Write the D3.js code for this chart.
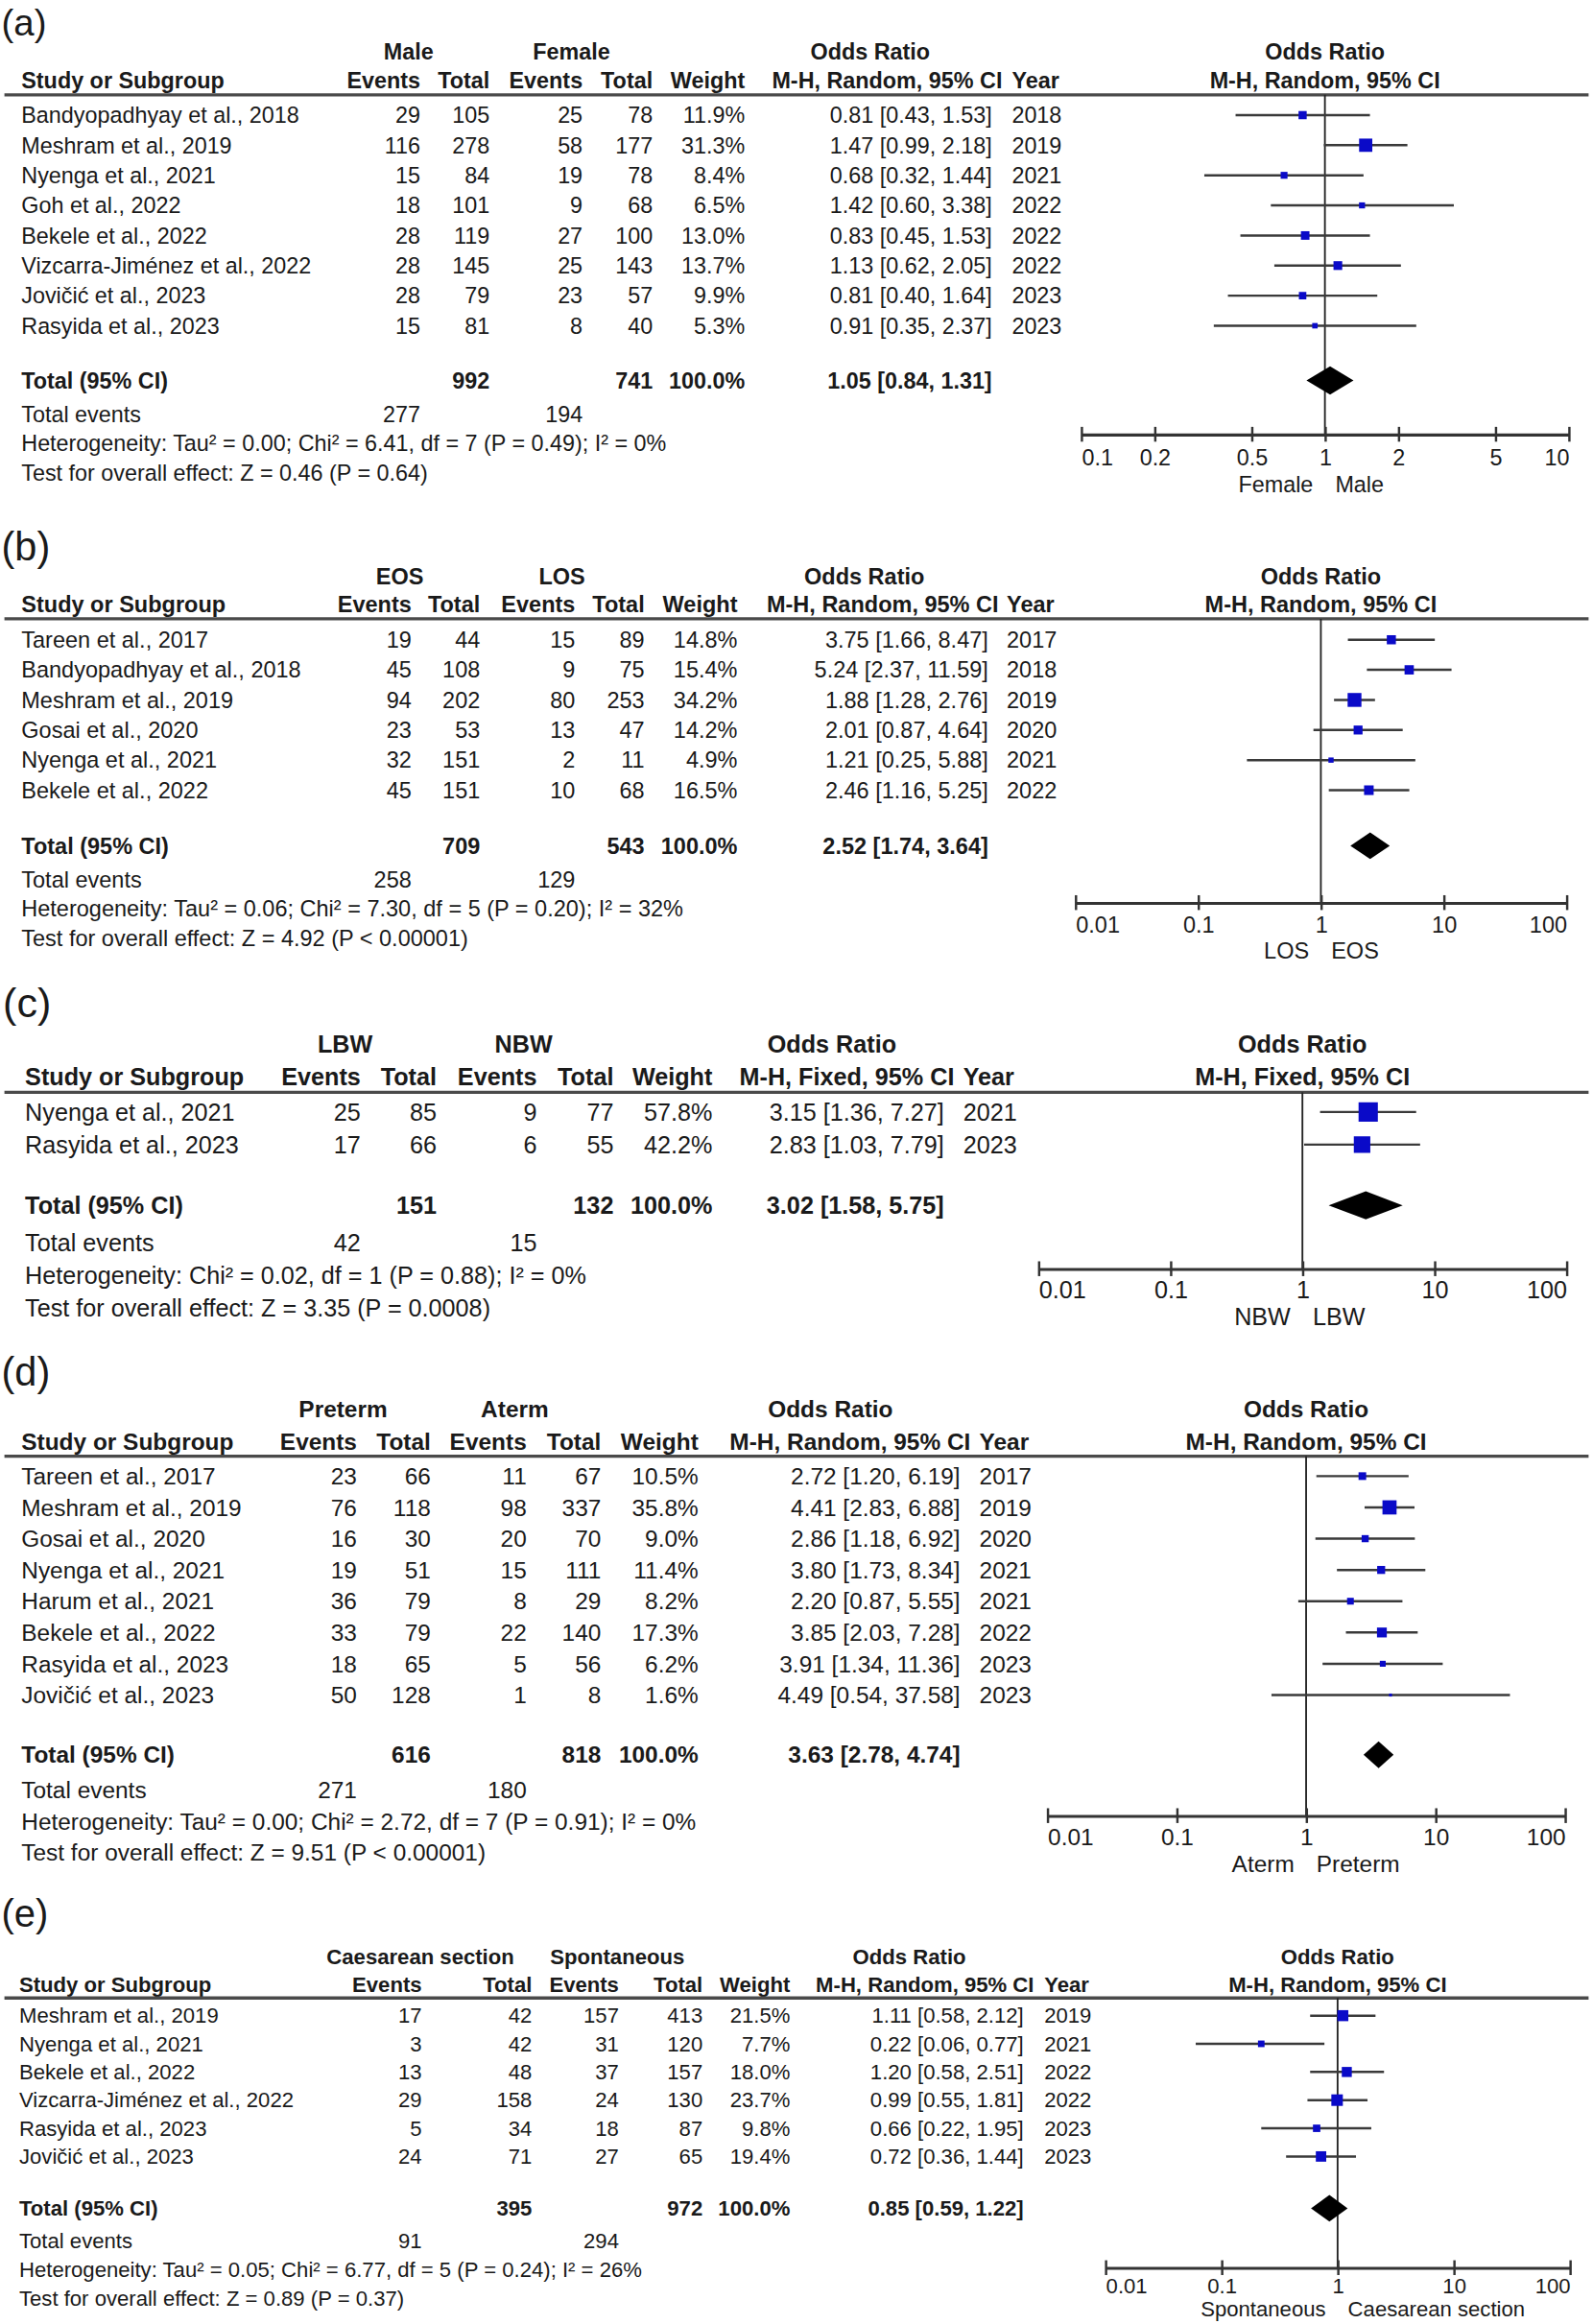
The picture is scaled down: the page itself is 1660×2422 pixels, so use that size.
<!DOCTYPE html>
<html>
<head>
<meta charset="utf-8">
<script src="https://cdn.jsdelivr.net/npm/d3@7"></script>
<style>
  html, body { margin: 0; padding: 0; background: #fff; }
  svg { display: block; }
  text { font-family: 'Liberation Sans', Arial, Helvetica, sans-serif; fill: #1a1a1a; }
</style>
</head>
<body>
<svg id="chart" width="1660" height="2422" viewBox="0 0 1080 1568" preserveAspectRatio="none"></svg>
<script>
// ---------- data: (a) sex ----------
var aStudies = ['Bandyopadhyay et al., 2018', 'Meshram et al., 2019', 'Nyenga et al., 2021', 'Goh et al., 2022',
  'Bekele et al., 2022', 'Vizcarra-Jiménez et al., 2022', 'Jovičić et al., 2023', 'Rasyida et al., 2023']
var aEvents1 = [29, 116, 15, 18, 28, 28, 28, 15]
var aTotal1 = [105, 278, 84, 101, 119, 145, 79, 81]
var aEvents2 = [25, 58, 19, 9, 27, 25, 23, 8]
var aTotal2 = [78, 177, 78, 68, 100, 143, 57, 40]
var aWeight = [11.9, 31.3, 8.4, 6.5, 13.0, 13.7, 9.9, 5.3]
var aOR = [0.81, 1.47, 0.68, 1.42, 0.83, 1.13, 0.81, 0.91]
var aLow = [0.43, 0.99, 0.32, 0.60, 0.45, 0.62, 0.40, 0.35]
var aHigh = [1.53, 2.18, 1.44, 3.38, 1.53, 2.05, 1.64, 2.37]
var aYear = [2018, 2019, 2021, 2022, 2022, 2022, 2023, 2023]
var aTotals = [992, 741]
var aTotalEvents = [277, 194]
var aPooled = [1.05, 0.84, 1.31]
var aGroups = ['Male', 'Female']
var aSides = ['Female', 'Male']
var aStats = ['Heterogeneity: Tau² = 0.00; Chi² = 6.41, df = 7 (P = 0.49); I² = 0%',
  'Test for overall effect: Z = 0.46 (P = 0.64)']

// ---------- data: (b) onset ----------
var bStudies = ['Tareen et al., 2017', 'Bandyopadhyay et al., 2018', 'Meshram et al., 2019', 'Gosai et al., 2020',
  'Nyenga et al., 2021', 'Bekele et al., 2022']
var bEvents1 = [19, 45, 94, 23, 32, 45]
var bTotal1 = [44, 108, 202, 53, 151, 151]
var bEvents2 = [15, 9, 80, 13, 2, 10]
var bTotal2 = [89, 75, 253, 47, 11, 68]
var bWeight = [14.8, 15.4, 34.2, 14.2, 4.9, 16.5]
var bOR = [3.75, 5.24, 1.88, 2.01, 1.21, 2.46]
var bLow = [1.66, 2.37, 1.28, 0.87, 0.25, 1.16]
var bHigh = [8.47, 11.59, 2.76, 4.64, 5.88, 5.25]
var bYear = [2017, 2018, 2019, 2020, 2021, 2022]
var bTotals = [709, 543]
var bTotalEvents = [258, 129]
var bPooled = [2.52, 1.74, 3.64]
var bGroups = ['EOS', 'LOS']
var bSides = ['LOS', 'EOS']
var bStats = ['Heterogeneity: Tau² = 0.06; Chi² = 7.30, df = 5 (P = 0.20); I² = 32%',
  'Test for overall effect: Z = 4.92 (P < 0.00001)']

// ---------- data: (c) birth weight ----------
var cStudies = ['Nyenga et al., 2021', 'Rasyida et al., 2023']
var cEvents1 = [25, 17]
var cTotal1 = [85, 66]
var cEvents2 = [9, 6]
var cTotal2 = [77, 55]
var cWeight = [57.8, 42.2]
var cOR = [3.15, 2.83]
var cLow = [1.36, 1.03]
var cHigh = [7.27, 7.79]
var cYear = [2021, 2023]
var cTotals = [151, 132]
var cTotalEvents = [42, 15]
var cPooled = [3.02, 1.58, 5.75]
var cGroups = ['LBW', 'NBW']
var cSides = ['NBW', 'LBW']
var cStats = ['Heterogeneity: Chi² = 0.02, df = 1 (P = 0.88); I² = 0%',
  'Test for overall effect: Z = 3.35 (P = 0.0008)']

// ---------- data: (d) gestation ----------
var dStudies = ['Tareen et al., 2017', 'Meshram et al., 2019', 'Gosai et al., 2020', 'Nyenga et al., 2021',
  'Harum et al., 2021', 'Bekele et al., 2022', 'Rasyida et al., 2023', 'Jovičić et al., 2023']
var dEvents1 = [23, 76, 16, 19, 36, 33, 18, 50]
var dTotal1 = [66, 118, 30, 51, 79, 79, 65, 128]
var dEvents2 = [11, 98, 20, 15, 8, 22, 5, 1]
var dTotal2 = [67, 337, 70, 111, 29, 140, 56, 8]
var dWeight = [10.5, 35.8, 9.0, 11.4, 8.2, 17.3, 6.2, 1.6]
var dOR = [2.72, 4.41, 2.86, 3.80, 2.20, 3.85, 3.91, 4.49]
var dLow = [1.20, 2.83, 1.18, 1.73, 0.87, 2.03, 1.34, 0.54]
var dHigh = [6.19, 6.88, 6.92, 8.34, 5.55, 7.28, 11.36, 37.58]
var dYear = [2017, 2019, 2020, 2021, 2021, 2022, 2023, 2023]
var dTotals = [616, 818]
var dTotalEvents = [271, 180]
var dPooled = [3.63, 2.78, 4.74]
var dGroups = ['Preterm', 'Aterm']
var dSides = ['Aterm', 'Preterm']
var dStats = ['Heterogeneity: Tau² = 0.00; Chi² = 2.72, df = 7 (P = 0.91); I² = 0%',
  'Test for overall effect: Z = 9.51 (P < 0.00001)']

// ---------- data: (e) delivery ----------
var eStudies = ['Meshram et al., 2019', 'Nyenga et al., 2021', 'Bekele et al., 2022',
  'Vizcarra-Jiménez et al., 2022', 'Rasyida et al., 2023', 'Jovičić et al., 2023']
var eEvents1 = [17, 3, 13, 29, 5, 24]
var eTotal1 = [42, 42, 48, 158, 34, 71]
var eEvents2 = [157, 31, 37, 24, 18, 27]
var eTotal2 = [413, 120, 157, 130, 87, 65]
var eWeight = [21.5, 7.7, 18.0, 23.7, 9.8, 19.4]
var eOR = [1.11, 0.22, 1.20, 0.99, 0.66, 0.72]
var eLow = [0.58, 0.06, 0.58, 0.55, 0.22, 0.36]
var eHigh = [2.12, 0.77, 2.51, 1.81, 1.95, 1.44]
var eYear = [2019, 2021, 2022, 2022, 2023, 2023]
var eTotals = [395, 972]
var eTotalEvents = [91, 294]
var ePooled = [0.85, 0.59, 1.22]
var eGroups = ['Caesarean section', 'Spontaneous']
var eSides = ['Spontaneous', 'Caesarean section']
var eStats = ['Heterogeneity: Tau² = 0.05; Chi² = 6.77, df = 5 (P = 0.24); I² = 26%',
  'Test for overall effect: Z = 0.89 (P = 0.37)']

// axis ticks
var narrowTicks = [0.1, 0.2, 0.5, 1, 2, 5, 10]
var wideTicks = [0.01, 0.1, 1, 10, 100]

var svg = d3.select('#chart')

function txt(g, x, y, s, anchor, bold, size) {
  return g.append('text')
    .attr('x', x)
    .attr('y', y)
    .attr('text-anchor', anchor || 'start')
    .style('font-size', size + 'px')
    .style('font-weight', bold ? 'bold' : 'normal')
    .text(s)
}

function forest(p) {
  var g = svg.append('g')
  var fs = p.fs
  var c = p.cols
  var f2 = d3.format('.2f')
  var f1 = d3.format('.1f')

  var x = d3.scaleLog()
    .domain([p.ticks[0], p.ticks[p.ticks.length - 1]])
    .range([p.x0, p.x1])
  var y = d3.scaleLinear().domain([0, 1]).range([p.row0, p.row0 + p.step])
  var size = d3.scaleSqrt().domain([0, 100]).range([0, p.k * 10])
  var mid = fs * 0.35

  txt(g, p.letterX, p.letterY, p.letter, 'start', false, p.letterSize)

  // header row 1
  txt(g, p.g1X, p.h1Y, p.groups[0], 'middle', true, fs)
  txt(g, p.g2X, p.h1Y, p.groups[1], 'middle', true, fs)
  txt(g, p.orHeadX, p.h1Y, 'Odds Ratio', 'middle', true, fs)
  txt(g, x(1), p.h1Y, 'Odds Ratio', 'middle', true, fs)

  // header row 2
  txt(g, c.study, p.h2Y, 'Study or Subgroup', 'start', true, fs)
  txt(g, c.ev1, p.h2Y, 'Events', 'end', true, fs)
  txt(g, c.tot1, p.h2Y, 'Total', 'end', true, fs)
  txt(g, c.ev2, p.h2Y, 'Events', 'end', true, fs)
  txt(g, c.tot2, p.h2Y, 'Total', 'end', true, fs)
  txt(g, c.weight, p.h2Y, 'Weight', 'end', true, fs)
  txt(g, c.or + 7, p.h2Y, p.method, 'end', true, fs)
  txt(g, c.year, p.h2Y, 'Year', 'start', true, fs)
  txt(g, x(1), p.h2Y, p.method, 'middle', true, fs)

  g.append('line')
    .attr('x1', 3).attr('x2', 1077)
    .attr('y1', p.ruleY).attr('y2', p.ruleY)
    .style('stroke', '#4a4a4a')
    .style('stroke-width', 2.2)

  // study rows
  p.studies.forEach(function(s, i) {
    var yy = y(i)
    txt(g, c.study, yy, s, 'start', false, fs)
    txt(g, c.ev1, yy, p.ev1[i], 'end', false, fs)
    txt(g, c.tot1, yy, p.tot1[i], 'end', false, fs)
    txt(g, c.ev2, yy, p.ev2[i], 'end', false, fs)
    txt(g, c.tot2, yy, p.tot2[i], 'end', false, fs)
    txt(g, c.weight, yy, f1(p.weight[i]) + '%', 'end', false, fs)
    txt(g, c.or, yy, f2(p.or[i]) + ' [' + f2(p.low[i]) + ', ' + f2(p.high[i]) + ']', 'end', false, fs)
    txt(g, c.year, yy, p.year[i], 'start', false, fs)
  })

  // totals
  txt(g, c.study, p.totalY, 'Total (95% CI)', 'start', true, fs)
  txt(g, c.tot1, p.totalY, p.totals[0], 'end', true, fs)
  txt(g, c.tot2, p.totalY, p.totals[1], 'end', true, fs)
  txt(g, c.weight, p.totalY, '100.0%', 'end', true, fs)
  txt(g, c.or, p.totalY,
    f2(p.pooled[0]) + ' [' + f2(p.pooled[1]) + ', ' + f2(p.pooled[2]) + ']', 'end', true, fs)
  txt(g, c.study, p.evY, 'Total events', 'start', false, fs)
  txt(g, c.ev1, p.evY, p.totalEvents[0], 'end', false, fs)
  txt(g, c.ev2, p.evY, p.totalEvents[1], 'end', false, fs)
  txt(g, c.study, p.hetY, p.stats[0], 'start', false, fs)
  txt(g, c.study, p.testY, p.stats[1], 'start', false, fs)

  // null line
  g.append('line')
    .attr('x1', x(1)).attr('x2', x(1))
    .attr('y1', p.ruleY).attr('y2', p.axisY)
    .style('stroke', '#222')
    .style('stroke-width', 1.2)

  // confidence intervals
  g.selectAll('.ci')
    .data(p.or)
    .enter()
    .append('line')
    .attr('x1', function(d, i) { return x(p.low[i]) })
    .attr('x2', function(d, i) { return x(p.high[i]) })
    .attr('y1', function(d, i) { return y(i) - mid })
    .attr('y2', function(d, i) { return y(i) - mid })
    .style('stroke', '#3a3a3a')
    .style('stroke-width', 1.6)

  // weight squares
  g.selectAll('.sq')
    .data(p.or)
    .enter()
    .append('rect')
    .attr('x', function(d, i) { return x(d) - size(p.weight[i]) / 2 })
    .attr('y', function(d, i) { return y(i) - mid - size(p.weight[i]) / 2 })
    .attr('width', function(d, i) { return size(p.weight[i]) })
    .attr('height', function(d, i) { return size(p.weight[i]) })
    .style('fill', '#0a0ac8')

  // pooled diamond
  var yc = p.totalY - mid
  g.append('path')
    .attr('d', 'M' + x(p.pooled[1]) + ',' + yc +
      'L' + x(p.pooled[0]) + ',' + (yc - p.diamondH) +
      'L' + x(p.pooled[2]) + ',' + yc +
      'L' + x(p.pooled[0]) + ',' + (yc + p.diamondH) + 'Z')
    .style('fill', '#000')

  // axis
  var ax = g.append('g')
    .attr('transform', 'translate(0,' + p.axisY + ')')
    .call(d3.axisBottom(x)
      .tickValues(p.ticks)
      .tickFormat(function(d) { return String(d) })
      .tickSizeInner(5)
      .tickSizeOuter(0))
  ax.attr('font-size', null).attr('font-family', null)
  ax.select('.domain').style('stroke', '#333').style('stroke-width', 2)
  ax.selectAll('.tick line').attr('y1', -5).style('stroke', '#333').style('stroke-width', 1.6)
  ax.selectAll('.tick text')
    .attr('y', p.labelOff)
    .attr('dy', 0)
    .style('font-size', fs + 'px')
    .attr('text-anchor', function(d, i) {
      return i === 0 ? 'start' : i === p.ticks.length - 1 ? 'end' : 'middle'
    })

  txt(g, x(1) - 8, p.axisY + p.dirOff, p.sides[0], 'end', false, fs)
  txt(g, x(1) + 7, p.axisY + p.dirOff, p.sides[1], 'start', false, fs)
}

forest({
  letter: '(a)', letterX: 1, letterY: 24, letterSize: 25, fs: 15.2,
  h1Y: 40, h2Y: 59.5, ruleY: 64, row0: 83, step: 20.3,
  totalY: 262, evY: 285, hetY: 304.5, testY: 324.5,
  cols: { study: 14.5, ev1: 285, tot1: 332, ev2: 395, tot2: 442.5, weight: 505, or: 672.5, year: 686 },
  g1X: 277, g2X: 387.5, orHeadX: 590, method: 'M-H, Random, 95% CI',
  x0: 733, x1: 1063.5, ticks: narrowTicks, axisY: 293, labelOff: 21, dirOff: 39,
  diamondH: 9.5, k: 1.6,
  studies: aStudies, ev1: aEvents1, tot1: aTotal1, ev2: aEvents2, tot2: aTotal2, weight: aWeight,
  or: aOR, low: aLow, high: aHigh, year: aYear, totals: aTotals, totalEvents: aTotalEvents,
  pooled: aPooled, groups: aGroups, sides: aSides, stats: aStats
})

forest({
  letter: '(b)', letterX: 1, letterY: 378, letterSize: 27, fs: 15.3,
  h1Y: 394, h2Y: 413, ruleY: 417.5, row0: 437, step: 20.3,
  totalY: 576, evY: 599, hetY: 618.5, testY: 638.5,
  cols: { study: 14.5, ev1: 279, tot1: 325.5, ev2: 390, tot2: 437, weight: 500, or: 670, year: 682.5 },
  g1X: 271, g2X: 381, orHeadX: 586, method: 'M-H, Random, 95% CI',
  x0: 729, x1: 1062, ticks: wideTicks, axisY: 609, labelOff: 20, dirOff: 38,
  diamondH: 9, k: 1.6,
  studies: bStudies, ev1: bEvents1, tot1: bTotal1, ev2: bEvents2, tot2: bTotal2, weight: bWeight,
  or: bOR, low: bLow, high: bHigh, year: bYear, totals: bTotals, totalEvents: bTotalEvents,
  pooled: bPooled, groups: bGroups, sides: bSides, stats: bStats
})

forest({
  letter: '(c)', letterX: 2, letterY: 686, letterSize: 28, fs: 16.4,
  h1Y: 710, h2Y: 732, ruleY: 737, row0: 756, step: 22,
  totalY: 819, evY: 844, hetY: 866, testY: 888,
  cols: { study: 17, ev1: 244.5, tot1: 296, ev2: 364, tot2: 416, weight: 483, or: 640, year: 653 },
  g1X: 234, g2X: 355, orHeadX: 564, method: 'M-H, Fixed, 95% CI',
  x0: 704, x1: 1062, ticks: wideTicks, axisY: 856, labelOff: 20, dirOff: 38,
  diamondH: 9.5, k: 1.72,
  studies: cStudies, ev1: cEvents1, tot1: cTotal1, ev2: cEvents2, tot2: cTotal2, weight: cWeight,
  or: cOR, low: cLow, high: cHigh, year: cYear, totals: cTotals, totalEvents: cTotalEvents,
  pooled: cPooled, groups: cGroups, sides: cSides, stats: cStats
})

forest({
  letter: '(d)', letterX: 1, letterY: 935, letterSize: 27, fs: 15.9,
  h1Y: 956.5, h2Y: 978.5, ruleY: 982.5, row0: 1001.5, step: 21.1,
  totalY: 1189.5, evY: 1213.5, hetY: 1234.5, testY: 1255.5,
  cols: { study: 14.5, ev1: 242, tot1: 292, ev2: 357, tot2: 407.5, weight: 473.5, or: 651, year: 664 },
  g1X: 232.6, g2X: 349, orHeadX: 563, method: 'M-H, Random, 95% CI',
  x0: 710, x1: 1061, ticks: wideTicks, axisY: 1225, labelOff: 20, dirOff: 38,
  diamondH: 9, k: 1.6,
  studies: dStudies, ev1: dEvents1, tot1: dTotal1, ev2: dEvents2, tot2: dTotal2, weight: dWeight,
  or: dOR, low: dLow, high: dHigh, year: dYear, totals: dTotals, totalEvents: dTotalEvents,
  pooled: dPooled, groups: dGroups, sides: dSides, stats: dStats
})

forest({
  letter: '(e)', letterX: 1, letterY: 1300, letterSize: 26, fs: 14.4,
  h1Y: 1325, h2Y: 1344, ruleY: 1348, row0: 1365, step: 19,
  totalY: 1495, evY: 1517, hetY: 1536, testY: 1556,
  cols: { study: 13, ev1: 286, tot1: 360.7, ev2: 419.6, tot2: 476.4, weight: 535.7, or: 694, year: 708 },
  g1X: 285, g2X: 418.5, orHeadX: 616.5, method: 'M-H, Random, 95% CI',
  x0: 749.4, x1: 1064.3, ticks: wideTicks, axisY: 1530, labelOff: 17, dirOff: 33,
  diamondH: 9, k: 1.6,
  studies: eStudies, ev1: eEvents1, tot1: eTotal1, ev2: eEvents2, tot2: eTotal2, weight: eWeight,
  or: eOR, low: eLow, high: eHigh, year: eYear, totals: eTotals, totalEvents: eTotalEvents,
  pooled: ePooled, groups: eGroups, sides: eSides, stats: eStats
})
</script>
</body>
</html>
